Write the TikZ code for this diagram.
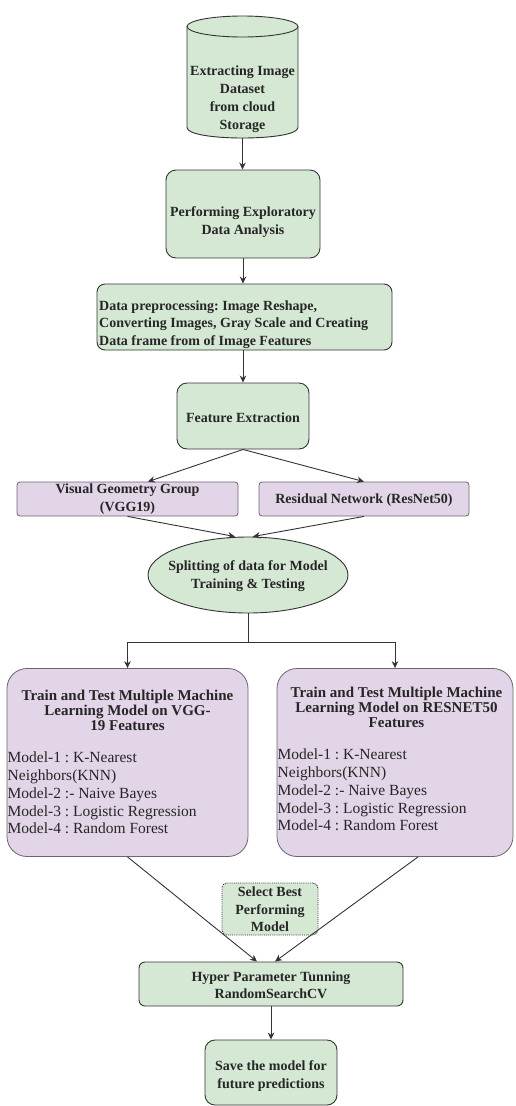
\documentclass[tikz,border=0pt]{standalone}
\usepackage{fontspec}
\setmainfont{Liberation Serif}
\frenchspacing
\usetikzlibrary{arrows.meta,calc,shapes.geometric}
\definecolor{gfill}{HTML}{D5E8D4}
\definecolor{pfill}{HTML}{E1D5E7}
\definecolor{edgec}{HTML}{333333}
\definecolor{pline}{HTML}{6E6473}
\begin{document}
\begin{tikzpicture}[x=1pt,y=-1pt,
 gbox/.style={draw=edgec, fill=gfill, line width=0.9pt, inner sep=0pt},
 pbox/.style={draw=pline, fill=pfill, line width=0.8pt, inner sep=0pt},
 lbl/.style={font=\fontsize{14}{18}\selectfont\bfseries, align=center, inner sep=0pt, text=black!85},
 conn/.style={draw=edgec, line width=0.9pt, -{Stealth[length=7pt,width=6.5pt]}},
]
\useasboundingbox (0,0) rectangle (516,1106);

% cylinder
\fill[gfill] (187,26.5) rectangle (298,127.5);
\fill[gfill] (187,127.5) .. controls (187,141.5) and (298,141.5) .. (298,127.5) -- cycle;
\draw[edgec, line width=0.9pt] (187,26.5) -- (187,127.5) .. controls (187,141.5) and (298,141.5) .. (298,127.5) -- (298,26.5);
\filldraw[fill=gfill, draw=edgec, line width=0.9pt] (242.5,26.5) ellipse [x radius=55.5, y radius=10.5];
\node[minimum width=111, minimum height=122, inner sep=0pt] (db) at (242.5,77) {};
\node[lbl] (dbt) at (242.5,99) {Extracting Image\\Dataset\\from cloud\\Storage};

% EDA
\node[gbox, rounded corners=10pt, minimum width=154, minimum height=88] (eda) at (243,214) {};
\node[lbl] (edat) at (243,222.5) {Performing Exploratory\\Data Analysis};

% preprocessing
\node[gbox, rounded corners=8pt, minimum width=295, minimum height=66] (prep) at (244.5,317) {};
\node[lbl, anchor=west, align=left, font=\fontsize{14}{17.5}\selectfont\bfseries] (prept) at (99,324.5) {Data preprocessing: Image Reshape,\\Converting Images, Gray Scale and Creating\\Data frame from of Image Features};

% feature extraction
\node[gbox, rounded corners=10pt, minimum width=132, minimum height=66] (fe) at (243,416) {};
\node[lbl] (fet) at (243,418) {Feature Extraction};

% VGG / ResNet
\node[pbox, rounded corners=3pt, minimum width=221, minimum height=34] (vgg) at (127.5,499) {};
\node[lbl] (vggt) at (127.5,499) {Visual Geometry Group\\(VGG19)};
\node[pbox, rounded corners=3pt, minimum width=210, minimum height=34] (res) at (364,499) {};
\node[lbl] (rest) at (364,500) {Residual Network (ResNet50)};

% splitting
\node[gbox, ellipse, minimum width=200, minimum height=76] (split) at (248,575) {};
\node[lbl] (splitt) at (248,576) {Splitting of data for Model\\Training \& Testing};
\coordinate (j) at (248,642);

% big boxes
\node[pbox, rounded corners=20pt, minimum width=241, minimum height=188] (L) at (127.5,762.5) {};
\node[lbl, font=\fontsize{15}{15}\selectfont\bfseries] (Lt) at (127.5,710) {Train and Test Multiple Machine\\Learning Model on VGG-\\19 Features};
\node[inner sep=0pt, anchor=west, align=left, font=\fontsize{15.5}{17.8}\selectfont, text=black!85] (Ll) at (7.5,793) {Model-1 : K-Nearest\\Neighbors(KNN)\\Model-2 :- Naive Bayes\\Model-3 : Logistic Regression\\Model-4 : Random Forest};

\node[pbox, rounded corners=20pt, minimum width=236, minimum height=188] (R) at (395,762.5) {};
\node[lbl, font=\fontsize{15}{15}\selectfont\bfseries] (Rt) at (396.5,707.5) {Train and Test Multiple Machine\\Learning Model on RESNET50\\Features};
\node[inner sep=0pt, anchor=west, align=left, font=\fontsize{15.5}{17.8}\selectfont, text=black!85] (Rl) at (277.5,790) {Model-1 : K-Nearest\\Neighbors(KNN)\\Model-2 :- Naive Bayes\\Model-3 : Logistic Regression\\Model-4 : Random Forest};

% select best
\node[gbox, densely dotted, rounded corners=5pt, minimum width=96, minimum height=52] (sel) at (270,909) {};
\node[lbl, font=\fontsize{14}{17.5}\selectfont\bfseries] (selt) at (270,909.5) {Select Best\\Performing\\Model};

% hyper
\node[gbox, rounded corners=6pt, minimum width=264, minimum height=44] (hyp) at (271,984) {};
\node[lbl, font=\fontsize{14}{16.5}\selectfont\bfseries] (hypt) at (271,985) {Hyper Parameter Tunning\\RandomSearchCV};

% save
\node[gbox, rounded corners=10pt, minimum width=132, minimum height=65] (save) at (271,1072.5) {};
\node[lbl] (savet) at (271,1076) {Save the model for\\future predictions};

% connectors
\draw[conn] (db.south) -- (db.south |- eda.north);
\draw[conn] (eda.south) -- (eda.south |- prep.north);
\draw[conn] (eda.south |- prep.south) -- (eda.south |- fe.north);
\draw[conn] (fe.south) -- ($(vgg.north)+(20.5,0)$);
\draw[conn] (fe.south) -- (res.north);
\draw[conn] (vgg.south) -- ($(split.north)+(-13,0)$);
\draw[conn] (res.south) -- ($(split.north)+(5,0)$);
\draw[edgec, line width=0.9pt] (split.south) -- (j);
\draw[conn] (j) -| (L.north);
\draw[conn] (j) -| (R.north);
\draw[conn] (L.south) -- ($(hyp.north)+(-14,0)$);
\draw[conn] ($(R.south)+(23,0)$) -- ($(hyp.north)+(4,0)$);
\draw[conn] (hyp.south) -- (save.north);
\end{tikzpicture}
\end{document}
